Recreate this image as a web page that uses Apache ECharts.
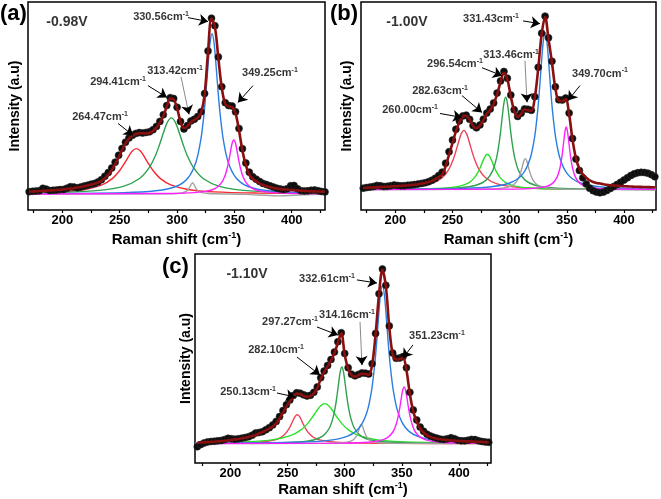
<!DOCTYPE html>
<html><head><meta charset="utf-8">
<script src="https://cdn.jsdelivr.net/npm/echarts@6/dist/echarts.min.js"></script>
<style>html,body{margin:0;padding:0;background:#fff}#c{width:661px;height:499px}</style>
</head><body><div id="c"></div>
<script>
// ---------- tick labels ----------
const tickLabels = [200, 250, 300, 350, 400];
const minorTicks = [175, 200, 225, 250, 275, 300, 325, 350, 375, 400, 425];

// ---------- panel (a) -0.98 V ----------
const xa = [171,174,177,180,183,186,189,192,195,198,201,204,207,210,213,216,219,222,225,228,231,234,237,240,243,246,249,252,255,258,261,264,267,270,273,276,279,282,285,288,291,294,297,300,303,306,309,312,315,318,321,324,327,330,333,336,339,342,345,348,351,354,357,360,363,366,369,372,375,378,381,384,387,390,393,396,399,402,405,408,411,414,417,420,423,426,429];
const dataA = [8.8,9.0,9.1,9.3,10.4,10.0,9.4,9.5,9.6,9.8,9.9,10.5,11.2,11.0,10.7,11.0,11.5,11.9,12.4,12.8,13.5,14.6,16.2,18.0,20.2,23.0,26.3,29.6,32.6,34.6,35.9,36.8,37.2,37.0,37.3,37.6,38.6,40.2,42.6,45.8,50.2,54.0,53.6,49.4,42.6,39.0,40.6,42.8,43.6,44.9,47.2,56.0,76.5,92.2,88.6,73.6,59.3,51.6,50.2,50.0,47.2,39.2,29.5,22.6,18.2,16.0,14.8,13.7,12.8,12.2,11.6,11.0,10.5,10.1,9.8,10.2,11.6,11.8,10.2,9.3,9.1,9.2,9.5,9.6,9.3,8.9,8.7];
const fitA = [8.9,8.9,9.0,9.1,9.2,9.3,9.4,9.5,9.6,9.75,9.9,10.1,10.3,10.5,10.8,11.1,11.4,11.8,12.2,12.6,13.2,14.0,15.3,17.0,19.2,22.0,25.3,28.8,32.0,34.3,35.7,36.5,36.9,36.9,36.8,37.0,38.0,39.6,42.0,45.2,49.6,53.6,53.2,49.0,42.5,39.4,40.3,42.2,43.3,44.4,46.8,55.5,76.0,92.0,88.0,73.0,58.7,51.0,49.8,49.5,46.5,38.3,28.5,21.5,17.0,15.0,13.8,12.8,12.0,11.5,11.0,10.6,10.3,10.1,9.9,9.8,9.6,9.5,9.4,9.3,9.2,9.1,9.0,8.95,8.9,8.85,8.8];
const redA = [[170,8.24],[197,8.72],[219.5,9.88],[234.5,12.06],[243.5,15.07],[249.5,18.6],[253.25,21.65],[257,25.1],[260.75,28.2],[264.5,29.5],[268.25,28.2],[272,25.1],[275.75,21.65],[279.5,18.6],[285.5,15.07],[294.5,12.06],[309.5,9.88],[332,8.72],[369.5,8.14],[429,7.88]];
const greenA = [[170,8.15],[197,8.43],[232,9.42],[253,11.36],[267,15.0],[275.4,20.1],[281,26.0],[284.5,31.1],[288,37.0],[291.5,42.1],[295,44.3],[298.5,42.1],[302,37.0],[305.5,31.1],[309,26.0],[314.6,20.1],[323,15.0],[337,11.36],[358,9.42],[393,8.43],[429,8.1]];
const blueA = [[170,7.85],[253.5,8.33],[281.5,9.24],[299,11.3],[309.5,15.4],[316.5,23.1],[320.7,33.8],[323.5,46.3],[325.25,57.0],[327,69.4],[328.75,80.3],[330.5,84.8],[332.25,80.3],[334,69.4],[335.75,57.0],[337.5,46.3],[340.3,33.8],[344.5,23.1],[351.5,15.4],[362,11.3],[379.5,9.24],[407.5,8.33],[429,8.09]];
const greyA = [[170,7.7],[292.5,7.81],[300,7.95],[304.5,8.24],[307.5,8.78],[309.3,9.53],[310.5,10.4],[312,12.0],[313.5,13.1],[315,12.0],[316.5,10.4],[317.7,9.53],[319.5,8.78],[322.5,8.24],[327,7.95],[334.5,7.81],[360,7.5],[388,6.8],[410,7.3],[429,7.5]];
const magA = [[170,7.7],[289,7.91],[311,8.22],[324.75,8.93],[333,10.3],[338.5,12.9],[341.8,16.5],[344,20.75],[345.375,24.4],[346.75,28.6],[348.125,32.3],[349.5,33.8],[350.875,32.3],[352.25,28.6],[353.625,24.4],[355,20.75],[357.2,16.5],[360.5,12.9],[366,10.3],[374.25,8.93],[388,8.22],[410,7.91],[429,7.8]];
const peakLabelsA = ['330.56','294.41','313.42','264.47','349.25'];
const labelPosA = [[286.0,92.6],[248.5,61.7],[298.2,67.0],[232.8,44.5],[381.0,66.0]];
const arrowsA = [[309.5,92.5,327.0,90.6,0],[274.6,59.8,291.2,54.1,0],[303.4,64.1,310.4,46.0,1],[248.5,41.6,261.6,35.9,0],[366.2,59.8,353.1,51.7,0]];
const voltA = ['-0.98V', 204.0, 90.4];

// ---------- panel (b) -1.00 V ----------
const xb = [172,175,178,181,184,187,190,193,196,199,202,205,208,211,214,217,220,223,226,229,232,235,238,241,244,247,250,253,256,259,262,265,268,271,274,277,280,283,286,289,292,295,298,301,304,307,310,313,316,319,322,325,328,331,334,337,340,343,346,349,352,355,358,361,364,367,370,373,376,379,382,385,388,391,394,397,400,403,406,409,412,415,418,421,424,427];
const dataB = [10.5,10.8,11.0,11.3,11.8,11.6,11.3,11.4,11.7,12.0,11.8,11.6,11.7,11.9,12.0,12.2,12.5,12.8,13.1,13.6,14.3,15.3,16.6,18.2,22.5,28.0,33.6,38.8,42.8,45.2,45.6,43.6,40.6,39.5,40.9,43.6,46.6,48.5,51.5,56.2,62.0,66.6,63.4,55.3,48.2,45.0,46.5,48.6,48.4,47.9,54.5,68.6,85.0,93.2,82.8,71.5,59.2,53.0,52.9,53.8,46.6,34.4,24.5,19.0,15.5,12.5,10.5,9.3,8.6,8.3,8.6,9.4,10.3,11.3,12.3,13.3,14.4,15.5,16.6,17.4,17.9,18.1,18.0,17.7,17.0,16.0];
const fitB = [10.6,10.7,10.8,10.9,11.0,11.0,11.1,11.2,11.3,11.4,11.5,11.6,11.7,11.9,12.0,12.2,12.4,12.7,13.0,13.4,14.0,14.8,15.8,17.0,21.0,26.6,32.2,37.8,42.2,44.9,45.4,43.4,40.4,39.3,40.6,43.2,46.2,48.1,51.0,55.6,61.4,66.0,62.8,54.7,47.6,44.7,46.2,48.3,48.0,47.6,54.0,68.0,84.5,92.8,82.2,70.9,58.5,52.5,52.4,53.3,46.0,33.8,24.8,19.8,17.2,15.5,14.3,13.5,13.0,12.7,12.4,12.1,11.9,11.8,11.7,11.55,11.45,11.35,11.3,11.2,11.15,11.1,11.05,11.0,10.95,10.9];
const redB = [[170,10.11],[193.5,10.37],[217.25,11.14],[231.5,12.65],[241,15.5],[246.7,19.43],[250.5,24.05],[252.875,28.04],[255.25,32.6],[257.625,36.6],[260,38.3],[262.375,36.6],[264.75,32.6],[267.125,28.04],[269.5,24.05],[273.3,19.43],[279,15.5],[288.5,12.65],[302.75,11.14],[326.5,10.37],[364.5,10.03],[428,9.89]];
const lgreenB = [[170,9.89],[192.5,9.94],[224.5,10.14],[244.5,10.6],[256.5,11.5],[264.5,13.2],[269.3,15.55],[272.5,18.3],[274.5,20.68],[276.5,23.4],[278.5,25.8],[280.5,26.8],[282.5,25.8],[284.5,23.4],[286.5,20.68],[288.5,18.3],[291.7,15.55],[296.5,13.2],[304.5,11.5],[316.5,10.6],[336.5,10.14],[368.5,9.94],[428,9.87]];
const dgreenB = [[170,9.89],[233.25,10.16],[256.25,10.69],[270.6,11.89],[279.25,14.24],[285,18.68],[288.45,24.8],[290.75,32.0],[292.19,38.2],[293.625,45.3],[295.06,51.6],[296.5,54.2],[297.94,51.6],[299.375,45.3],[300.81,38.2],[302.25,32.0],[304.55,24.8],[308,18.68],[313.75,14.24],[322.4,11.89],[336.75,10.69],[359.75,10.16],[428,9.88]];
const greyB = [[170,9.8],[264.2,9.92],[282.2,10.1],[293.45,10.5],[300.2,11.29],[304.7,12.78],[307.4,14.84],[309.2,17.25],[310.325,19.34],[311.45,21.7],[312.575,23.8],[313.7,24.7],[314.825,23.8],[315.95,21.7],[317.075,19.34],[318.2,17.25],[320,14.84],[322.7,12.78],[327.2,11.29],[333.95,10.5],[345.2,10.1],[363.2,9.92],[428,9.82]];
const blueB = [[170,9.92],[259.5,10.42],[285.5,11.31],[301.75,13.35],[311.5,17.35],[318,24.9],[321.9,35.3],[324.5,47.55],[326.125,58.1],[327.75,70.2],[329.375,80.8],[331,85.3],[332.625,80.8],[334.25,70.2],[335.875,58.1],[337.5,47.55],[340.1,35.3],[344,24.9],[350.5,17.35],[360.25,13.35],[376.5,11.31],[402.5,10.42],[428,10.14]];
const magB = [[170,9.8],[305.5,10.05],[321.5,10.4],[331.5,11.21],[337.5,12.81],[341.5,15.82],[343.9,19.97],[345.5,24.85],[346.5,29.06],[347.5,33.9],[348.5,38.1],[349.5,39.9],[350.5,38.1],[351.5,33.9],[352.5,29.06],[353.5,24.85],[355.1,19.97],[357.5,15.82],[361.5,12.81],[367.5,11.21],[377.5,10.4],[393.5,10.05],[428,9.9]];
const peakLabelsB = ['331.43','313.46','296.54','282.63','260.00','349.70'];
const labelPosB = [[283.7,91.9],[301.2,74.6],[252.2,70.3],[239.1,57.4],[212.9,47.9],[379.0,65.6]];
const arrowsB = [[311.7,90.9,326.5,89.6,0],[313.4,71.8,315.2,51.8,1],[275.8,68.4,293.3,64.6,0],[258.3,55.0,275.8,46.9,0],[239.1,46.4,258.3,44.5,0],[361.5,59.8,351.0,52.6,0]];
const voltB = ['-1.00V', 210.2, 90.4];

// ---------- panel (c) -1.10 V ----------
const xc = [171,174,177,180,183,186,189,192,195,198,201,204,207,210,213,216,219,222,225,228,231,234,237,240,243,246,249,252,255,258,261,264,267,270,273,276,279,282,285,288,291,294,297,300,303,306,309,312,315,318,321,324,327,330,333,336,339,342,345,348,351,354,357,360,363,366,369,372,375,378,381,384,387,390,393,396,399,402,405,408,411,414,417,420,423,426];
const dataC = [7.8,8.8,9.6,10.1,10.3,10.4,10.6,10.8,11.2,11.8,11.6,11.4,11.6,11.9,12.2,12.6,13.3,14.3,14.6,15.0,15.9,16.9,18.2,19.9,22.2,25.1,27.9,30.1,32.3,33.6,33.4,32.6,32.1,32.4,33.8,36.4,40.8,44.0,46.7,49.5,53.1,58.0,62.3,52.4,45.6,42.5,41.7,42.4,43.1,43.0,42.6,47.5,62.0,81.0,92.8,85.0,65.6,52.6,50.1,50.2,50.9,45.6,33.8,25.4,20.6,17.2,15.2,13.8,12.9,12.3,11.8,11.4,11.3,11.6,12.1,11.6,10.9,10.6,10.6,10.9,11.3,11.2,10.7,10.3,10.1,9.9];
const fitC = [9.7,9.8,9.95,10.0,10.1,10.2,10.35,10.5,10.65,10.85,11.05,11.3,11.5,11.8,12.1,12.45,12.9,13.4,14.1,14.8,15.6,16.4,17.5,19.0,21.2,24.1,27.0,29.4,31.8,33.2,33.0,32.2,31.7,32.0,33.3,35.8,40.2,43.5,46.2,49.0,52.6,57.5,62.0,51.8,45.1,42.0,41.3,42.0,42.7,42.6,42.2,47.0,61.5,80.5,92.4,84.5,65.0,52.0,49.5,49.6,50.3,44.5,33.0,24.6,19.8,16.5,14.6,13.3,12.5,12.0,11.6,11.35,11.15,11.0,10.8,10.7,10.6,10.5,10.4,10.35,10.3,10.2,10.15,10.1,10.0,9.95];
const redC = [[169,9.4],[176,9.41],[206,9.58],[224.75,9.95],[236,10.68],[243.5,12.06],[248,13.96],[251,16.2],[252.875,18.13],[254.75,20.34],[256.625,22.3],[258.5,23.1],[260.375,22.3],[262.25,20.34],[264.125,18.13],[266,16.2],[269,13.96],[273.5,12.06],[281,10.68],[292.25,9.95],[311,9.58],[341,9.41],[428,9.33]];
const lgreenC = [[169,9.63],[177.5,9.68],[215,10.2],[237.5,11.21],[252.5,13.12],[261.5,15.76],[267.5,18.85],[271.25,21.52],[275,24.58],[278.75,27.3],[282.5,28.4],[286.25,27.3],[290,24.58],[293.75,21.52],[297.5,18.85],[303.5,15.76],[312.5,13.12],[327.5,11.21],[350,10.2],[387.5,9.68],[428,9.5]];
const dgreenC = [[169,9.4],[237,9.6],[259,10.03],[272.75,11.02],[281,12.96],[286.5,16.62],[289.8,21.7],[292,27.6],[293.375,32.7],[294.75,38.6],[296.125,43.7],[297.5,45.9],[298.875,43.7],[300.25,38.6],[301.625,32.7],[303,27.6],[305.2,21.7],[308.5,16.62],[314,12.96],[322.25,11.02],[336,10.03],[358,9.6],[428,9.38]];
const greyC = [[169,9.3],[276,9.37],[290,9.48],[298.75,9.72],[304,10.2],[307.5,11.1],[309.6,12.34],[311,13.8],[311.875,15.06],[312.75,16.5],[313.625,17.77],[314.5,18.3],[315.375,17.77],[316.25,16.5],[317.125,15.06],[318,13.8],[319.4,12.34],[321.5,11.1],[325,10.2],[330.25,9.72],[339,9.48],[353,9.37],[428,9.3]];
const blueC = [[169,9.43],[258.75,9.92],[285.75,10.81],[302.6,12.86],[312.75,16.87],[319.5,24.44],[323.55,34.9],[326.25,47.15],[327.94,57.7],[329.625,69.9],[331.3,80.5],[333,85.0],[334.7,80.5],[336.375,69.9],[338.06,57.7],[339.75,47.15],[342.45,34.9],[346.5,24.44],[353.25,16.87],[363.4,12.86],[380.25,10.81],[407.25,9.92],[428,9.68]];
const magC = [[169,9.3],[297,9.52],[317,9.84],[329.5,10.57],[337,12.01],[342,14.72],[345,18.46],[347,22.85],[348.25,26.6],[349.5,31.0],[350.75,34.8],[352,36.4],[353.25,34.8],[354.5,31.0],[355.75,26.6],[357,22.85],[359,18.46],[362,14.72],[367,12.01],[374.5,10.57],[387,9.84],[407,9.52],[428,9.4]];
const peakLabelsC = ['332.61','314.16','297.27','282.10','250.13','351.23'];
const labelPosC = [[284.5,88.0],[302.0,70.8],[252.1,67.5],[239.9,54.1],[215.4,34.0],[380.7,60.8]];
const arrowsC = [[310.7,87.6,328.2,86.1,0],[313.4,67.5,315.1,46.9,1],[275.7,65.1,294.1,61.2,0],[258.2,50.7,278.4,42.1,0],[240.7,33.5,256.5,31.6,0],[359.7,56.5,351.0,50.2,0]];
const voltC = ['-1.10V', 214.5, 90.4];

// ---------- build ----------
const FONT = '"Liberation Sans", Arial, Helvetica, sans-serif';
const RED = '#f8262e', PINK = '#f0405a', GREEN = '#2ea24f', LGREEN = '#2be02b', BLUE = '#2a7ee2', MAG = '#ff1fff', GREY = '#a2a2a2', FIT = '#8a1010';

const panels = [
  {grid:{left:28, top:2, width:297, height:208}, xr:[170,429], xs:xa, data:dataA, fit:fitA,
   comps:[[redA,RED],[greenA,GREEN],[blueA,BLUE],[greyA,GREY],[magA,MAG]],
   labels:peakLabelsA, pos:labelPosA, arrows:arrowsA, volt:voltA, gapX:21, gapY:6, tag:'(a)', tagPos:[0,3]},
  {grid:{left:361, top:2, width:295, height:208}, xr:[170,428], xs:xb, data:dataB, fit:fitB,
   comps:[[redB,PINK],[lgreenB,LGREEN],[dgreenB,GREEN],[greyB,GREY],[blueB,BLUE],[magB,MAG]],
   labels:peakLabelsB, pos:labelPosB, arrows:arrowsB, volt:voltB, gapX:21, gapY:7, tag:'(b)', tagPos:[330,3]},
  {grid:{left:195, top:254, width:296, height:209}, xr:[169,428], xs:xc, data:dataC, fit:fitC,
   comps:[[redC,PINK],[lgreenC,LGREEN],[dgreenC,GREEN],[greyC,GREY],[blueC,BLUE],[magC,MAG]],
   labels:peakLabelsC, pos:labelPosC, arrows:arrowsC, volt:voltC, gapX:18, gapY:2, tag:'(c)', tagPos:[162,256]}
];

const grid = [], xAxis = [], yAxis = [], series = [], graphic = [];
const richLbl = {
  n:{fontSize:11, fontWeight:'bold', fontFamily:FONT, color:'#000', lineHeight:13},
  s:{fontSize:7, fontWeight:'bold', fontFamily:FONT, color:'#000', verticalAlign:'top', lineHeight:8}
};
function arrowItems(a) {
  if (!a[4]) {
    return [[{coord:[a[0],a[1]], symbol:'none', lineStyle:{color:'#000', width:1, type:'solid'}},
             {coord:[a[2],a[3]], symbol:'arrow', symbolSize:9}]];
  }
  // grey shaft with black head
  const hx = a[0] + (a[2]-a[0])*0.82, hy = a[1] + (a[3]-a[1])*0.82;
  return [[{coord:[a[0],a[1]], symbol:'none', lineStyle:{color:'#8a8a8a', width:1, type:'solid'}},
           {coord:[hx,hy], symbol:'none'}],
          [{coord:[hx,hy], symbol:'none', lineStyle:{color:'#000', width:1, type:'solid'}},
           {coord:[a[2],a[3]], symbol:'arrow', symbolSize:9}]];
}
panels.forEach((p, i) => {
  grid.push(Object.assign({show:true, borderColor:'#000', borderWidth:1.5, backgroundColor:'transparent', containLabel:false}, p.grid));
  xAxis.push({
    gridIndex:i, type:'value', min:p.xr[0], max:p.xr[1],
    axisLine:{show:false},
    axisTick:{show:true, inside:false, length:3, customValues:minorTicks, lineStyle:{color:'#000', width:1.2}},
    axisLabel:{show:true, customValues:tickLabels, margin:4, fontSize:13, fontWeight:'bold', fontFamily:FONT, color:'#000'},
    splitLine:{show:false},
    name:'{n|Raman shift (cm}{s|-1}{n|)}', nameLocation:'middle', nameGap:p.gapX,
    nameTextStyle:{verticalAlign:'top', rich:{
      n:{fontSize:15, fontWeight:'bold', fontFamily:FONT, color:'#000', lineHeight:17},
      s:{fontSize:9, fontWeight:'bold', fontFamily:FONT, color:'#000', verticalAlign:'top', lineHeight:10}}}
  });
  yAxis.push({
    gridIndex:i, type:'value', min:0, max:100,
    axisLine:{show:false}, axisTick:{show:false}, axisLabel:{show:false}, splitLine:{show:false},
    name:'Intensity (a.u)', nameLocation:'middle', nameGap:p.gapY,
    nameTextStyle:{fontSize:14, fontWeight:'bold', fontFamily:FONT, color:'#000'}
  });
  p.comps.forEach(([pts, col]) => series.push({
    type:'line', xAxisIndex:i, yAxisIndex:i, data:pts, showSymbol:false, smooth:0.3,
    lineStyle:{color:col, width:1.4}, silent:true, z:2
  }));
  series.push({
    type:'scatter', xAxisIndex:i, yAxisIndex:i, data:p.xs.map((x,k)=>[x, p.data[k]]),
    symbol:'circle', symbolSize:7, itemStyle:{color:'#0d0d0d', borderColor:'#2a2a2a', borderWidth:0.6, opacity:1}, silent:true, z:3
  });
  series.push({
    type:'line', xAxisIndex:i, yAxisIndex:i, data:p.xs.map((x,k)=>[x, p.fit[k]]),
    showSymbol:false, smooth:0.35, lineStyle:{color:FIT, width:2.6}, silent:true, z:4
  });
  series.push({
    type:'scatter', xAxisIndex:i, yAxisIndex:i, symbolSize:0, silent:true, z:6,
    data:p.labels.map((t,k)=>({value:p.pos[k], name:t})),
    label:{show:true, position:'inside', formatter:(q)=>'{n|'+q.name+'cm}{s|-1}', rich:richLbl},
    markLine:{
      silent:true, animation:false, symbol:['none','arrow'], symbolSize:9,
      lineStyle:{type:'solid', color:'#000', width:1},
      label:{show:false},
      data:[].concat(...p.arrows.map(arrowItems))
    }
  });
  series.push({
    type:'scatter', xAxisIndex:i, yAxisIndex:i, symbolSize:0, silent:true, z:6,
    data:[{value:[p.volt[1], p.volt[2]], name:p.volt[0]}],
    label:{show:true, position:'inside', formatter:(q)=>q.name, fontSize:14, fontWeight:'bold', fontFamily:FONT, color:'#000'}
  });
  graphic.push({type:'text', left:p.tagPos[0], top:p.tagPos[1], style:{text:p.tag, font:'bold 22px '+FONT, fill:'#000'}});
});

const chart = echarts.init(document.getElementById('c'));
chart.setOption({animation:false, backgroundColor:'#fff', grid, xAxis, yAxis, series, graphic});
</script>
</body></html>
